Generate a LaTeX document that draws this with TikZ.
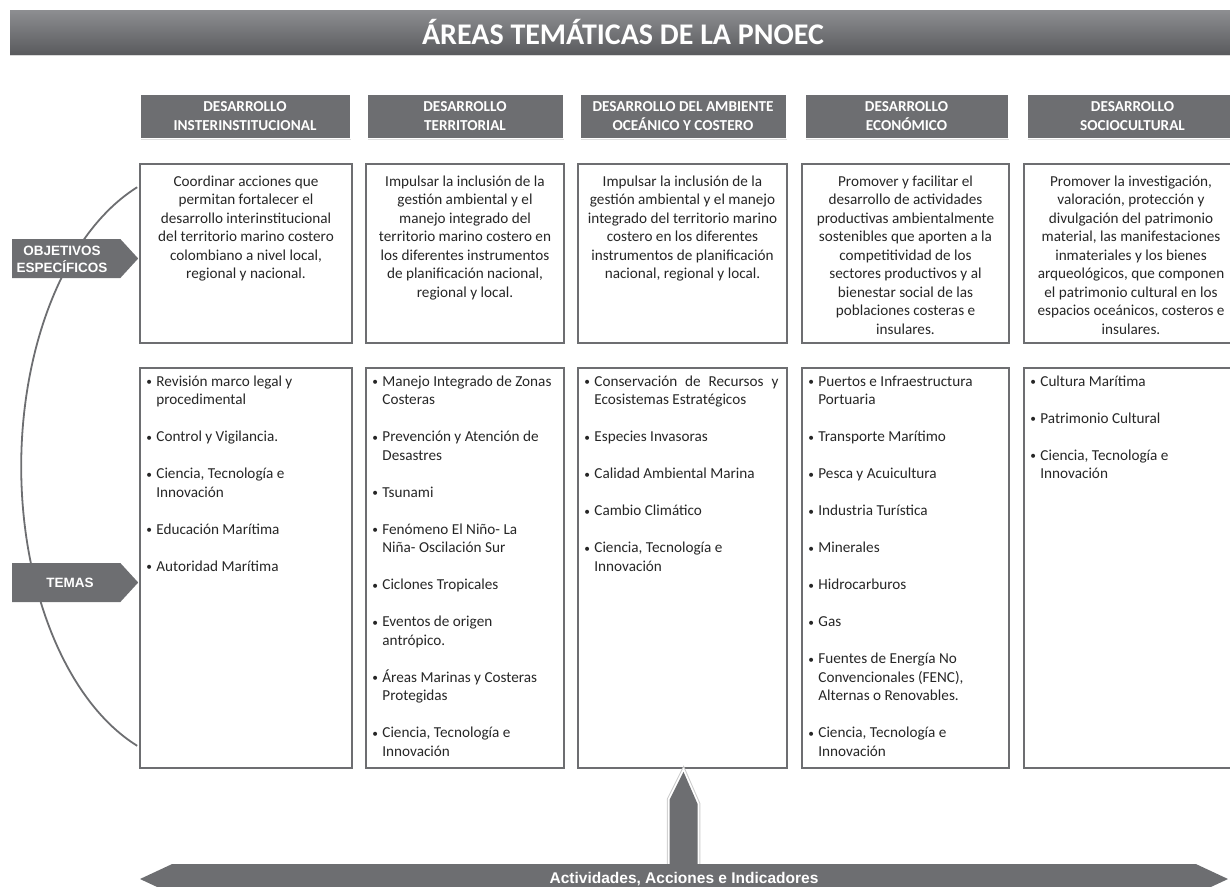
\documentclass[tikz,border=0pt]{standalone}
\usepackage{fontspec}
\setmainfont{Carlito}
\setsansfont{Liberation Sans}
\usepackage{tikz}
\usetikzlibrary{positioning,calc,shapes.symbols,shadows}

\definecolor{areagray}{HTML}{6D6E71}
\definecolor{titletop}{HTML}{8D8E91}
\definecolor{titlebot}{HTML}{5A5B5E}
\definecolor{bodytext}{HTML}{262626}

\newcommand{\bodyfnt}{\fontsize{15.2}{18.5}\selectfont}
\newcommand{\headfnt}{\fontsize{15.2}{18.5}\selectfont\bfseries}
\newcommand{\titlefnt}{\fontsize{30}{34}\selectfont\bfseries}
\newcommand{\sidefnt}{\sffamily\bfseries\fontsize{13.5}{17}\selectfont}
\newcommand{\tbul}{\makebox[10pt][l]{\raisebox{0.5pt}{\scalebox{0.75}{\textbullet}}}}
\newcommand{\tcont}{\hspace*{10pt}}

\tikzstyle{titlebar}=[top color=titletop, bottom color=titlebot, minimum width=1226pt, minimum height=44pt, text=white, font=\titlefnt, drop shadow={shadow xshift=0pt, shadow yshift=-2pt, opacity=0.3}]
\tikzstyle{areahead}=[fill=areagray, draw=white, line width=1pt, minimum height=44pt, text=white, font=\headfnt, align=center, drop shadow={shadow xshift=1pt, shadow yshift=-1.5pt, opacity=0.25}]
\tikzstyle{objbox}=[draw=areagray, line width=1.6pt, minimum height=179pt]
\tikzstyle{temabox}=[draw=areagray, line width=1.6pt, minimum height=400pt]
\tikzstyle{objtext}=[inner sep=0pt, align=center, font=\bodyfnt, text=bodytext, anchor=north]
\tikzstyle{tematext}=[inner sep=0pt, align=left, font=\bodyfnt, text=bodytext, anchor=north west]
\tikzstyle{sidelabel}=[shape=signal, signal to=east, signal pointer angle=95, fill=areagray, minimum width=126pt, minimum height=39pt, inner sep=0pt, anchor=west]
\tikzstyle{sidetext}=[text=white, font=\sidefnt, align=center, inner sep=0pt]
\tikzstyle{actbar}=[shape=signal, signal to=east and west, signal pointer angle=50, fill=areagray, minimum width=1088pt, minimum height=30pt, text=white, font=\sffamily\bfseries\fontsize{15.5}{18}\selectfont, inner sep=0pt]
\tikzstyle{uparrow}=[fill=areagray, preaction={draw=gray!40, line width=5.5pt}, preaction={draw=white, line width=3.5pt}]
\tikzstyle{bracket}=[draw=areagray, line width=1.8pt]

\begin{document}
\begin{tikzpicture}[x=1pt,y=-1pt]
\useasboundingbox (0,0) rectangle (1230,886);
\clip (0,0) rectangle (1230,886);

% titulo
\node[titlebar] (titulo) at (623,32) {ÁREAS TEMÁTICAS DE LA PNOEC};

% encabezados
\node[areahead, minimum width=210pt] (h1) at (245,116) {DESARROLLO\\INSTERINSTITUCIONAL};
\node[areahead, minimum width=196pt] (h2) at (465,116) {DESARROLLO\\TERRITORIAL};
\node[areahead, minimum width=206pt] (h3) at (683,116) {DESARROLLO DEL AMBIENTE\\OCEÁNICO Y COSTERO};
\node[areahead, minimum width=203pt] (h4) at (906.5,116) {DESARROLLO\\ECONÓMICO};
\node[areahead, minimum width=211pt] (h5) at (1132.5,116) {DESARROLLO\\SOCIOCULTURAL};

% objetivos especificos
\node[objbox, minimum width=212pt] (o1) at (246,253.5) {};
\node[objbox, minimum width=198pt] (o2) at (465,253.5) {};
\node[objbox, minimum width=209pt] (o3) at (682.5,253.5) {};
\node[objbox, minimum width=207pt] (o4) at (905.5,253.5) {};
\node[objbox, minimum width=214pt] (o5) at (1131,253.5) {};

\node[objtext, below=10pt of o1.north] (o1t) {\strut Coordinar acciones que\\permitan fortalecer el\\desarrollo interinstitucional\\del territorio marino costero\\colombiano a nivel local,\\regional y nacional.};
\node[objtext, below=10pt of o2.north] (o2t) {\strut Impulsar la inclusión de la\\gestión ambiental y el\\manejo integrado del\\territorio marino costero en\\los diferentes instrumentos\\de planificación nacional,\\regional y local.};
\node[objtext, below=10pt of o3.north] (o3t) {\strut Impulsar la inclusión de la\\gestión ambiental y el manejo\\integrado del territorio marino\\costero en los diferentes\\instrumentos de planificación\\nacional, regional y local.};
\node[objtext, below=10pt of o4.north] (o4t) {\strut Promover y facilitar el\\desarrollo de actividades\\productivas ambientalmente\\sostenibles que aporten a la\\competitividad de los\\sectores productivos y al\\bienestar social de las\\poblaciones costeras e\\insulares.};
\node[objtext, below=10pt of o5.north] (o5t) {\strut Promover la investigación,\\valoración, protección y\\divulgación del patrimonio\\material, las manifestaciones\\inmateriales y los bienes\\arqueológicos, que componen\\el patrimonio cultural en los\\espacios oceánicos, costeros e\\insulares.};

% temas
\node[temabox, minimum width=212pt] (t1) at (246,568) {};
\node[temabox, minimum width=198pt] (t2) at (465,568) {};
\node[temabox, minimum width=209pt] (t3) at (682.5,568) {};
\node[temabox, minimum width=207pt] (t4) at (905.5,568) {};
\node[temabox, minimum width=214pt] (t5) at (1131,568) {};

\node[tematext] (t1t) at ($(t1.north west)+(7,6)$) {\tbul\strut Revisión marco legal y\\\tcont procedimental\\[18.5pt]
  \tbul Control y Vigilancia.\\[18.5pt]
  \tbul Ciencia, Tecnología e\\\tcont Innovación\\[18.5pt]
  \tbul Educación Marítima\\[18.5pt]
  \tbul Autoridad Marítima};
\node[tematext] (t2t) at ($(t2.north west)+(7,6)$) {\tbul\strut Manejo Integrado de Zonas\\\tcont Costeras\\[18.5pt]
  \tbul Prevención y Atención de\\\tcont Desastres\\[18.5pt]
  \tbul Tsunami\\[18.5pt]
  \tbul Fenómeno El Niño- La\\\tcont Niña- Oscilación Sur\\[18.5pt]
  \tbul Ciclones Tropicales\\[18.5pt]
  \tbul Eventos de origen\\\tcont antrópico.\\[18.5pt]
  \tbul Áreas Marinas y Costeras\\\tcont Protegidas\\[18.5pt]
  \tbul Ciencia, Tecnología e\\\tcont Innovación};
\node[tematext] (t3t) at ($(t3.north west)+(7,6)$) {\tbul\strut\makebox[184pt][s]{Conservación de Recursos y}\\\tcont Ecosistemas Estratégicos\\[18.5pt]
  \tbul Especies Invasoras\\[18.5pt]
  \tbul Calidad Ambiental Marina\\[18.5pt]
  \tbul Cambio Climático\\[18.5pt]
  \tbul Ciencia, Tecnología e\\\tcont Innovación};
\node[tematext] (t4t) at ($(t4.north west)+(7,6)$) {\tbul\strut Puertos e Infraestructura\\\tcont Portuaria\\[18.5pt]
  \tbul Transporte Marítimo\\[18.5pt]
  \tbul Pesca y Acuicultura\\[18.5pt]
  \tbul Industria Turística\\[18.5pt]
  \tbul Minerales\\[18.5pt]
  \tbul Hidrocarburos\\[18.5pt]
  \tbul Gas\\[18.5pt]
  \tbul Fuentes de Energía No\\\tcont Convencionales (FENC),\\\tcont Alternas o Renovables.\\[18.5pt]
  \tbul Ciencia, Tecnología e\\\tcont Innovación};
\node[tematext] (t5t) at ($(t5.north west)+(7,6)$) {\tbul\strut Cultura Marítima\\[18.5pt]
  \tbul Patrimonio Cultural\\[18.5pt]
  \tbul Ciencia, Tecnología e\\\tcont Innovación};

% llave curva a la izquierda
\coordinate (arcbot) at ($(t1.south west)+(-2,-23)$);
\draw[bracket] (arcbot) arc[start angle=110.4, end angle=249.6, x radius=178, y radius=298];

% etiquetas laterales
\node[sidelabel] (objlbl) at (12,258.5) {};
\node[sidetext] (objlbltxt) at (62,259) {OBJETIVOS\\ESPECÍFICOS};
\node[sidelabel] (temlbl) at (12,582.5) {};
\node[sidetext] (temlbltxt) at (70,583) {TEMAS};

% actividades
\node[actbar] (acciones) at (684,879) {Actividades, Acciones e Indicadores};
\coordinate (punta) at ($(t3.south)+(1,3)$);
\path[uparrow] (acciones.north -| punta) ++(-14,0) -- ++(0,-64) -- (punta) -- ++(14,32) -- ($(acciones.north -| punta)+(14,0)$);
\end{tikzpicture}
\end{document}
